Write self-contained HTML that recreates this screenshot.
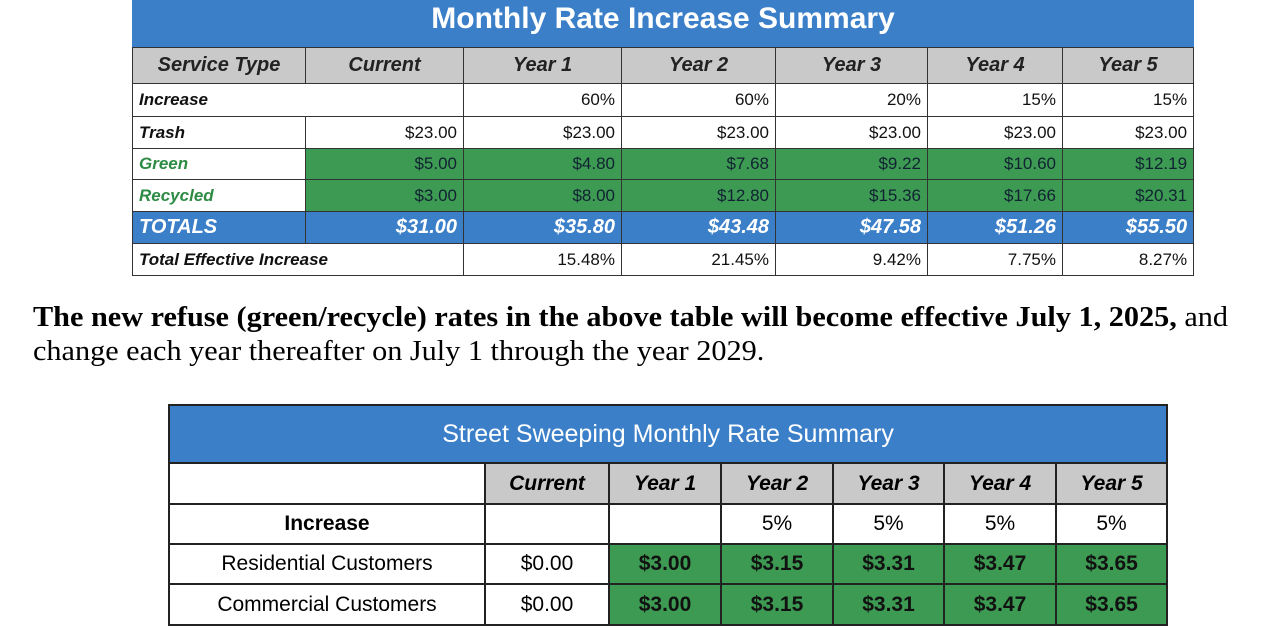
<!DOCTYPE html>
<html><head><meta charset="utf-8"><style>
body{margin:0;width:1280px;height:640px;background:#fff;position:relative;overflow:hidden;font-family:"Liberation Sans",sans-serif}
table{border-collapse:collapse;position:absolute;table-layout:fixed}
td{border:1.5px solid #333;padding:0 6px;white-space:nowrap;overflow:hidden}
#t1{left:132px;top:0;width:1061px}
#t1 td{font-size:17px;text-align:right;color:#111}
#t1 .title{background:#3b7fc9;color:#fff;font-weight:bold;font-size:30px;text-align:center;height:46px;border-color:#3b7fc9 #3b7fc9 #333;vertical-align:top;line-height:36px}
#t1 .hd td{background:#c9c9c9;font-weight:bold;font-style:italic;font-size:20px;text-align:center;height:35px;color:#222}
#t1 .lab{text-align:left;font-style:italic;font-weight:bold}
#t1 .g{background:#3d9a52;color:#123}
.b td{background:#3b7fc9;color:#fff!important;font-weight:bold;font-style:italic;font-size:20px!important}
#t2{left:168px;top:404px;width:998px}
#t2 td{font-size:21px;text-align:center;border:2px solid #222}
#t2 .title{background:#3b7fc9;color:#fff;font-size:25px;height:56px}
#t2 .gh{background:#c9c9c9;font-weight:bold;font-style:italic}
#t2 .g{background:#3d9a52;font-weight:bold;color:#111}
p{position:absolute;left:33px;margin:0;font-family:"Liberation Serif",serif;font-size:28px;line-height:34px;transform:scaleX(1.08);transform-origin:left top;white-space:nowrap}
</style></head><body>
<table id="t1">
<colgroup><col style="width:173px"><col style="width:158px"><col style="width:158px"><col style="width:154px"><col style="width:152px"><col style="width:135px"><col style="width:131px"></colgroup>
<tr><td colspan="7" class="title">Monthly Rate Increase Summary</td></tr>
<tr class="hd"><td>Service Type</td><td>Current</td><td>Year 1</td><td>Year 2</td><td>Year 3</td><td>Year 4</td><td>Year 5</td></tr>
<tr style="height:33px"><td colspan="2" class="lab">Increase</td><td>60%</td><td>60%</td><td>20%</td><td>15%</td><td>15%</td></tr>
<tr style="height:32px"><td class="lab">Trash</td><td>$23.00</td><td>$23.00</td><td>$23.00</td><td>$23.00</td><td>$23.00</td><td>$23.00</td></tr>
<tr style="height:31px"><td class="lab" style="color:#2e8b45">Green</td><td class="g">$5.00</td><td class="g">$4.80</td><td class="g">$7.68</td><td class="g">$9.22</td><td class="g">$10.60</td><td class="g">$12.19</td></tr>
<tr style="height:32px"><td class="lab" style="color:#2e8b45">Recycled</td><td class="g">$3.00</td><td class="g">$8.00</td><td class="g">$12.80</td><td class="g">$15.36</td><td class="g">$17.66</td><td class="g">$20.31</td></tr>
<tr class="b" style="height:32px"><td class="lab" style="text-align:left">TOTALS</td><td>$31.00</td><td>$35.80</td><td>$43.48</td><td>$47.58</td><td>$51.26</td><td>$55.50</td></tr>
<tr style="height:32px"><td colspan="2" class="lab">Total Effective Increase</td><td>15.48%</td><td>21.45%</td><td>9.42%</td><td>7.75%</td><td>8.27%</td></tr>
</table>
<p style="top:301px"><b>The new refuse (green/recycle) rates in the above table will become effective July 1, 2025,</b> and<br>change each year thereafter on July 1 through the year 2029.</p>
<table id="t2">
<colgroup><col style="width:316px"><col style="width:124px"><col style="width:112px"><col style="width:112px"><col style="width:111px"><col style="width:112px"><col style="width:111px"></colgroup>
<tr><td colspan="7" class="title">Street Sweeping Monthly Rate Summary</td></tr>
<tr style="height:41px"><td></td><td class="gh">Current</td><td class="gh">Year 1</td><td class="gh">Year 2</td><td class="gh">Year 3</td><td class="gh">Year 4</td><td class="gh">Year 5</td></tr>
<tr style="height:40px"><td style="font-weight:bold">Increase</td><td></td><td></td><td>5%</td><td>5%</td><td>5%</td><td>5%</td></tr>
<tr style="height:40px"><td>Residential Customers</td><td>$0.00</td><td class="g">$3.00</td><td class="g">$3.15</td><td class="g">$3.31</td><td class="g">$3.47</td><td class="g">$3.65</td></tr>
<tr style="height:41px"><td>Commercial Customers</td><td>$0.00</td><td class="g">$3.00</td><td class="g">$3.15</td><td class="g">$3.31</td><td class="g">$3.47</td><td class="g">$3.65</td></tr>
</table>
</body></html>
